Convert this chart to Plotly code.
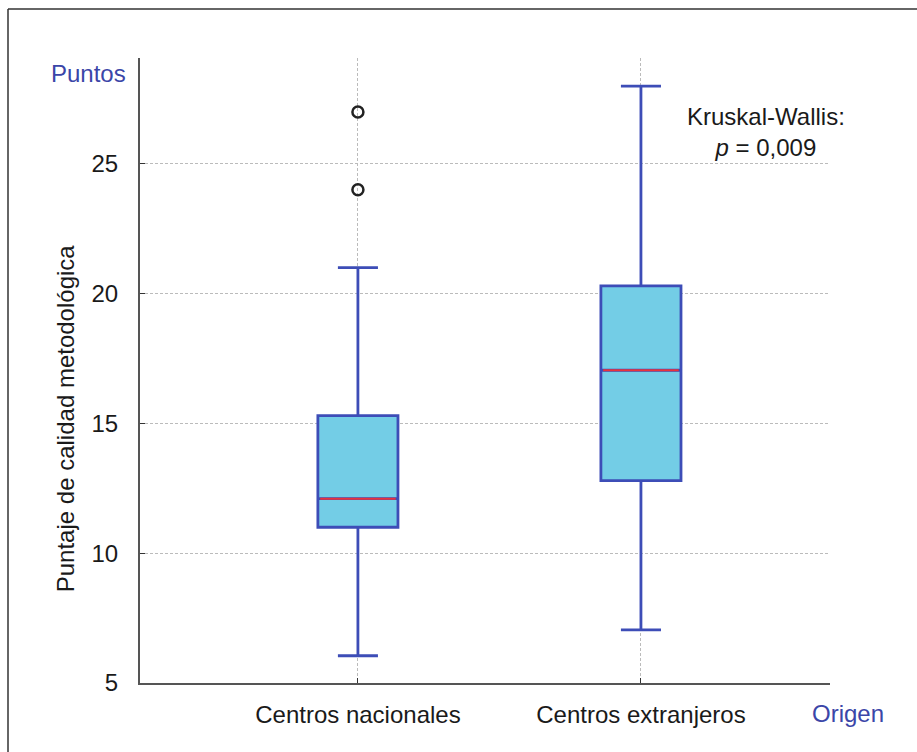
import plotly.graph_objects as go

# ---- data ----
categories = ["Centros nacionales", "Centros extranjeros"]
positions = [0, 1]
q1 = [11.0, 12.8]
medians = [12.1, 17.05]
q3 = [15.3, 20.3]
lower_whisker = [6.05, 7.05]
upper_whisker = [21.0, 28.0]
outlier_x = [0, 0]
outlier_y = [27.0, 24.0]
y_ticks = [5, 10, 15, 20, 25]

BOX_W = 0.283
FILL = "#73CDE6"
LINE = "#3D4DB7"
RED = "#E8323C"
FONT = "Liberation Sans, Arial, sans-serif"
FS = 24

fig = go.Figure()

for i, cat in enumerate(categories):
    fig.add_trace(go.Box(
        x=[positions[i]], q1=[q1[i]], median=[medians[i]], q3=[q3[i]],
        lowerfence=[lower_whisker[i]], upperfence=[upper_whisker[i]],
        width=BOX_W, whiskerwidth=0.5,
        fillcolor=FILL, line=dict(color=LINE, width=2.8),
        boxpoints=False, showlegend=False, hoverinfo="skip", name=cat,
    ))
    # red median line
    fig.add_trace(go.Scatter(
        x=[positions[i] - BOX_W / 2 + 0.008, positions[i] + BOX_W / 2 - 0.008],
        y=[medians[i], medians[i]], mode="lines",
        line=dict(color=RED, width=2), showlegend=False, hoverinfo="skip",
    ))

fig.add_trace(go.Scatter(
    x=outlier_x, y=outlier_y, mode="markers",
    marker=dict(symbol="circle-open", size=11, color="#222222", line=dict(width=2.5)),
    showlegend=False, hoverinfo="skip",
))

fig.update_layout(
    width=917, height=752,
    margin=dict(l=140, r=87, t=58, b=69),
    paper_bgcolor="white", plot_bgcolor="white",
    font=dict(family=FONT, color="#1a1a1a"),
    xaxis=dict(
        range=[-0.770, 1.668], tickvals=positions, ticktext=categories,
        showgrid=True, gridcolor="#bbbbbb", griddash="3px,2px", gridwidth=1,
        showline=True, linecolor="#555555", linewidth=2,
        ticks="inside", ticklen=5, tickcolor="#333333",
        tickfont=dict(size=FS, color="#1a1a1a"), ticklabelstandoff=9,
        zeroline=False,
    ),
    yaxis=dict(
        range=[5, 29.08], tickvals=y_ticks,
        showgrid=True, gridcolor="#bbbbbb", griddash="3px,2px", gridwidth=1,
        showline=True, linecolor="#555555", linewidth=2,
        ticks="inside", ticklen=5, tickcolor="#333333",
        tickfont=dict(size=FS, color="#1a1a1a"), ticklabelstandoff=15,
        zeroline=False,
    ),
    annotations=[
        dict(text="Puntaje de calidad metodológica", textangle=-90,
             xref="paper", yref="y", x=-0.1087, y=15.2, showarrow=False,
             xanchor="center", yanchor="middle",
             font=dict(size=FS, color="#1a1a1a")),
        dict(text="Puntos", xref="paper", yref="paper", x=-0.075, y=0.976,
             xanchor="center", yanchor="middle",
             showarrow=False, font=dict(size=FS, color="#3B46A8")),
        dict(text="Origen", xref="paper", yref="paper", x=1.026, y=-0.048,
             xanchor="center", yanchor="middle",
             showarrow=False, font=dict(size=FS, color="#3B46A8")),
        dict(text="Kruskal-Wallis:<br><i>p</i> = 0,009", xref="paper", yref="paper",
             x=0.907, y=0.882, showarrow=False, align="center",
             xanchor="center", yanchor="middle",
             font=dict(size=FS, color="#1a1a1a")),
    ],
    shapes=[
        dict(type="line", xref="paper", yref="paper", x0=-0.1913, x1=1.2,
             y0=1.0784, y1=1.0784, line=dict(color="#333333", width=1.5)),
        dict(type="line", xref="paper", yref="paper", x0=-0.1913, x1=-0.1913,
             y0=1.0784, y1=-0.2, line=dict(color="#333333", width=1.5)),
    ],
)

fig.write_html("out.html")
